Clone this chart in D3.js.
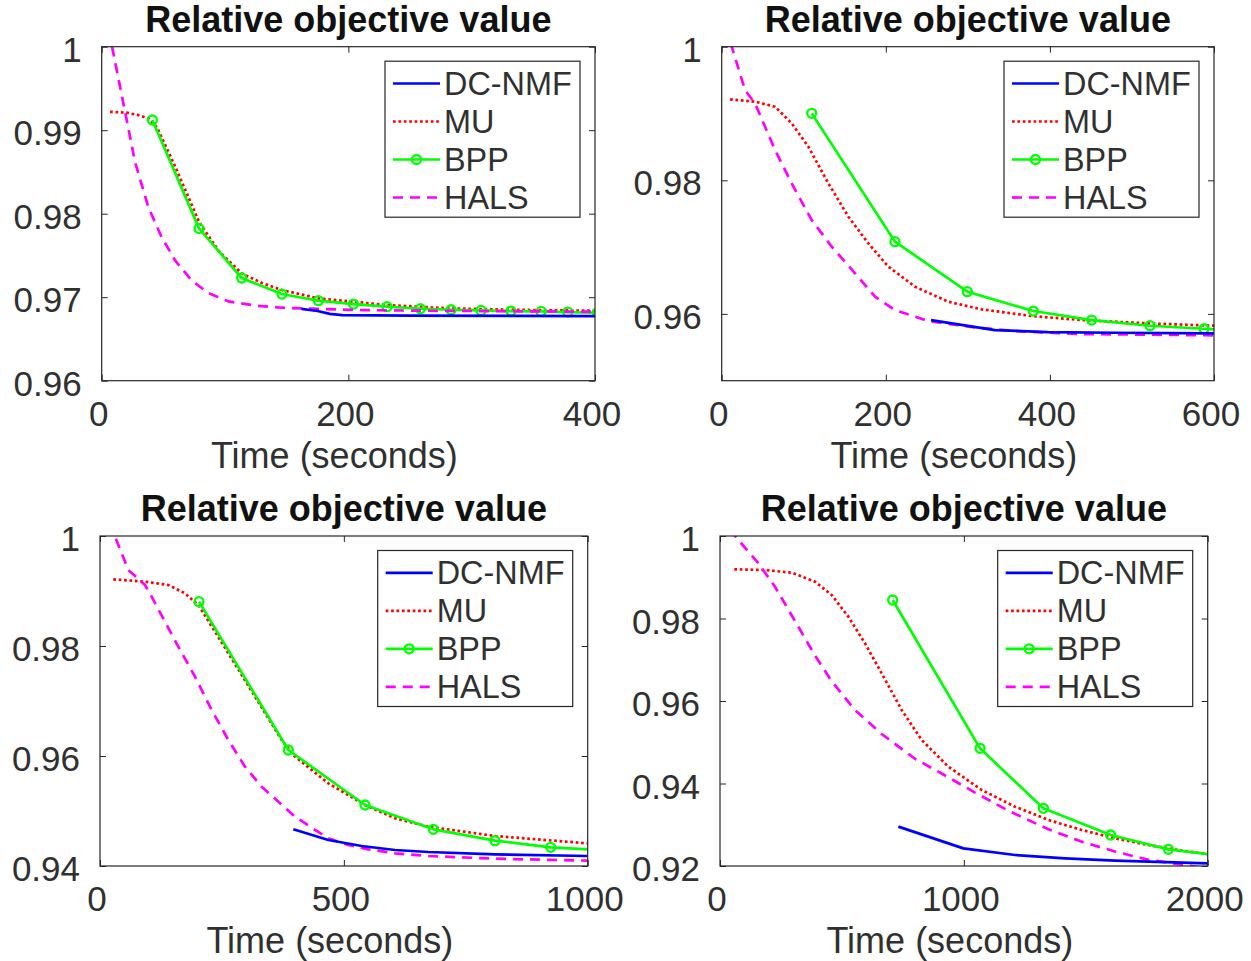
<!DOCTYPE html>
<html>
<head>
<meta charset="utf-8">
<title>Relative objective value</title>
<script src="https://d3js.org/d3.v7.min.js"></script>
<style>
  body { margin: 0; background: #fff; }
  text { font-family: "Liberation Sans", Arial, Helvetica, sans-serif; fill: #303030; }
</style>
</head>
<body>
<script>

	// series names, legend order
	var seriesNames = ["DC-NMF", "MU", "BPP", "HALS"];

	// panel 1 : [time, value]
	var p1DC = [[162,0.9686],[175,0.96835],[185,0.9680],[195,0.96786],[250,0.9678],[400,0.96774]];
	var p1MU = [[6.8,0.9922],[20,0.9921],[30,0.9918],[38,0.9914],[45,0.9903],[60,0.9855],[79,0.9790],[95,0.9755],[113.5,0.97285],[130,0.9717],[146,0.97086],[175.7,0.96986],[204,0.96946],[231,0.96906],[283,0.96866],[340,0.96848],[400,0.96838]];
	var p1BPP = [[41.1,0.99122],[78.9,0.97824],[113.5,0.9723],[146.2,0.97038],[175.7,0.96958],[204.1,0.96918],[231.4,0.96886],[258.4,0.96862],[283.3,0.9685],[307.6,0.96842],[331.9,0.96834],[356.3,0.9683],[377.9,0.96822],[402,0.96813]];
	var p1HALS = [[3,1.004],[20.3,0.9912],[27,0.9862],[37.8,0.9808],[48.6,0.9772],[59.5,0.9744],[73,0.9720],[86.5,0.9705],[102.7,0.9695],[124.3,0.9690],[146,0.96874],[170.3,0.96862],[210.8,0.96846],[265,0.96838],[400,0.96826]];

	// panel 2
	var p2DC = [[255.1,0.95908],[333.1,0.95758],[397.2,0.95728],[478.5,0.95718],[600,0.95708]];
	var p2MU = [[10.2,0.99212],[40.6,0.99177],[65,0.99102],[85.3,0.98852],[105.6,0.98503],[130,0.97954],[154.4,0.97455],[178.7,0.97056],[203.1,0.96707],[235.6,0.96407],[276.2,0.96182],[316.9,0.96068],[377.8,0.95968],[438.8,0.95908],[520,0.95858],[600,0.95823]];
	var p2BPP = [[109.7,0.99002],[211.2,0.97081],[299.4,0.96332],[379.8,0.96043],[450.9,0.95908],[522,0.95823],[587.8,0.95778],[653,0.95725]];
	var p2HALS = [[5,1.0029],[28.4,0.99351],[40.6,0.99152],[65,0.98453],[85.3,0.97954],[109.7,0.97405],[134.1,0.97006],[162.5,0.96607],[186.9,0.96257],[211.2,0.96058],[251.8,0.95893],[308.7,0.95798],[357.5,0.95743],[438.8,0.95699],[520,0.95689],[600,0.95679]];

	// panel 3
	var p3DC = [[396.4,0.94667],[468.2,0.94473],[536.6,0.94364],[604.9,0.94291],[673.3,0.94255],[810,0.94212],[1000,0.94182]];
	var p3MU = [[27.3,0.99212],[92.3,0.9917],[140.1,0.99109],[174.3,0.98958],[203,0.9873],[263.2,0.97867],[317.8,0.97079],[372.5,0.96291],[399.9,0.95988],[468.2,0.95503],[543.4,0.95109],[604.9,0.94867],[673.3,0.94715],[810,0.94545],[1000,0.94412]];
	var p3BPP = [[203,0.98806],[386.2,0.96109],[543.4,0.95109],[683.5,0.94667],[810,0.94461],[924.1,0.9434],[1038,0.94284]];
	var p3HALS = [[20,1.0024],[30.8,0.99988],[58.1,0.99382],[92.3,0.99109],[105.9,0.98897],[160.6,0.97988],[194.8,0.97442],[229,0.96836],[263.2,0.96291],[297.3,0.95806],[331.5,0.95442],[365.7,0.9517],[399.9,0.94897],[434,0.94697],[468.2,0.94503],[509.2,0.94382],[550.2,0.94303],[605,0.9423],[673.3,0.94182],[810,0.94133],[1000,0.94097]];

	// panel 4
	var p4DC = [[731.4,0.92954],[998,0.92428],[1209.8,0.92267],[1415,0.92186],[1620,0.92129],[2000,0.92065]];
	var p4MU = [[58.8,0.99192],[184.6,0.99176],[294,0.99111],[389.6,0.98893],[458,0.9857],[526.3,0.98044],[594.7,0.97398],[663,0.96671],[745,0.95782],[827.1,0.95055],[936.5,0.94408],[1073.2,0.93842],[1210,0.93438],[1346.7,0.93115],[1483.4,0.92873],[1620,0.92671],[1757,0.92509],[1893.4,0.92372],[2000,0.9229]];
	var p4BPP = [[708.1,0.98448],[1066.3,0.94853],[1326,0.93398],[1601.9,0.92752],[1838.7,0.92404],[2076,0.92238]];
	var p4HALS = [[40,1.0015],[61.5,1.0],[157.2,0.9934],[225.6,0.9877],[321.3,0.9780],[389.6,0.9710],[458,0.9648],[553.7,0.9578],[663,0.9520],[799.7,0.9460],[936.5,0.9415],[1045.8,0.9378],[1182.5,0.9334],[1346.7,0.9289],[1483.4,0.9259],[1620,0.9235],[1757,0.9215],[1934.4,0.9200],[2000,0.9194]];

	// axis ranges and tick labels
	var xMax = [400, 600, 1000, 2000];
	var yMin = [0.96, 0.95, 0.94, 0.92];
	var xTicks = [[0,200,400], [0,200,400,600], [0,500,1000], [0,1000,2000]];
	var yTicks = [[0.96,0.97,0.98,0.99,1], [0.96,0.98,1], [0.94,0.96,0.98,1], [0.92,0.94,0.96,0.98,1]];

	var titleText = "Relative objective value";
	var xLabelText = "Time (seconds)";

	// layout (pixels)
	var boxes = [
		{ left : 101.7, right : 595,    top : 46.7, bottom : 380.7 },
		{ left : 721.7, right : 1214,   top : 46.7, bottom : 380.7 },
		{ left : 100,   right : 587.7,  top : 536,  bottom : 866 },
		{ left : 720,   right : 1207.7, top : 536,  bottom : 866 }
	];

	var styles = [
		{ color : "#0000ff", dash : null,    marker : false },
		{ color : "#ff0000", dash : "2.7,2.7", marker : false },
		{ color : "#00ff00", dash : null,    marker : true },
		{ color : "#ff00ff", dash : "10,7",  marker : false }
	];

	var panels = [
		[p1DC, p1MU, p1BPP, p1HALS],
		[p2DC, p2MU, p2BPP, p2HALS],
		[p3DC, p3MU, p3BPP, p3HALS],
		[p4DC, p4MU, p4BPP, p4HALS]
	];

	var axisColor = "#262626";
	var lineW = 2.7;

	var svg = d3.select("body").append("svg")
		.attr("width", 1251)
		.attr("height", 961)
		.style("background", "#fff");

	function drawPanel(i) {
		var b = boxes[i];
		var x = d3.scaleLinear().domain([0, xMax[i]]).range([b.left, b.right]);
		var y = d3.scaleLinear().domain([yMin[i], 1]).range([b.bottom, b.top]);
		var g = svg.append("g");

		var clipId = "clip" + i;
		svg.append("clipPath").attr("id", clipId)
			.append("rect")
			.attr("x", b.left).attr("y", b.top)
			.attr("width", b.right - b.left).attr("height", b.bottom - b.top);

		// curves
		var line = d3.line()
			.x(function (d) { return x(d[0]); })
			.y(function (d) { return y(d[1]); });

		var plot = g.append("g").attr("clip-path", "url(#" + clipId + ")");
		// draw order: MU, BPP, HALS, DC on top like the reference
		[1, 2, 3, 0].forEach(function (s) {
			var st = styles[s];
			plot.append("path")
				.attr("d", line(panels[i][s]))
				.attr("fill", "none")
				.attr("stroke", st.color)
				.attr("stroke-width", lineW)
				.attr("stroke-dasharray", st.dash)
				.attr("stroke-linejoin", "round");
			if (st.marker) {
				plot.selectAll("circle.m" + s)
					.data(panels[i][s]).enter()
					.append("circle")
					.attr("cx", function (d) { return x(d[0]); })
					.attr("cy", function (d) { return y(d[1]); })
					.attr("r", 4.5)
					.attr("fill", "none")
					.attr("stroke", st.color)
					.attr("stroke-width", 2.3);
			}
		});

		// box axes with inward ticks on all sides
		var tl = 6;
		g.append("g").attr("transform", "translate(0," + b.bottom + ")")
			.call(d3.axisBottom(x).tickValues(xTicks[i]).tickSizeInner(-tl).tickSizeOuter(0).tickFormat(""));
		g.append("g").attr("transform", "translate(0," + b.top + ")")
			.call(d3.axisTop(x).tickValues(xTicks[i]).tickSizeInner(-tl).tickSizeOuter(0).tickFormat(""));
		g.append("g").attr("transform", "translate(" + b.left + ",0)")
			.call(d3.axisLeft(y).tickValues(yTicks[i]).tickSizeInner(-tl).tickSizeOuter(0).tickFormat(""));
		g.append("g").attr("transform", "translate(" + b.right + ",0)")
			.call(d3.axisRight(y).tickValues(yTicks[i]).tickSizeInner(-tl).tickSizeOuter(0).tickFormat(""));
		g.selectAll(".domain").remove();
		g.selectAll(".tick line").attr("stroke", axisColor).attr("stroke-width", 1);

		g.append("rect")
			.attr("x", b.left).attr("y", b.top)
			.attr("width", b.right - b.left).attr("height", b.bottom - b.top)
			.attr("fill", "none").attr("stroke", axisColor).attr("stroke-width", 1.2);

		// tick labels
		g.selectAll("text.xt").data(xTicks[i]).enter()
			.append("text")
			.attr("x", function (d) { return x(d) - 3; })
			.attr("y", b.bottom + 45)
			.attr("text-anchor", "middle")
			.style("font-size", "35px")
			.text(function (d) { return d3.format("d")(d); });

		g.selectAll("text.yt").data(yTicks[i]).enter()
			.append("text")
			.attr("x", b.left - 20)
			.attr("y", function (d) { return y(d) + 15; })
			.attr("text-anchor", "end")
			.style("font-size", "35px")
			.text(function (d) { return d === 1 ? "1" : d3.format(".2f")(d); });

		// title and x label
		g.append("text")
			.attr("x", (b.left + b.right) / 2)
			.attr("y", b.top - 15)
			.attr("text-anchor", "middle")
			.style("font-size", "36px")
			.style("font-weight", "bold")
			.style("fill", "#111")
			.text(titleText);

		g.append("text")
			.attr("x", (b.left + b.right) / 2 - 14)
			.attr("y", b.bottom + 87)
			.attr("text-anchor", "middle")
			.style("font-size", "36px")
			.text(xLabelText);

		// legend
		var lw = 195, lh = 156;
		var lx = b.right - 15 - lw, ly = b.top + 14.5;
		var leg = g.append("g").attr("transform", "translate(" + lx + "," + ly + ")");
		leg.append("rect")
			.attr("width", lw).attr("height", lh)
			.attr("fill", "#fff").attr("stroke", axisColor).attr("stroke-width", 1.2);
		seriesNames.forEach(function (name, s) {
			var cy = 22.3 + s * 38;
			var st = styles[s];
			leg.append("line")
				.attr("x1", 8).attr("x2", 55).attr("y1", cy).attr("y2", cy)
				.attr("stroke", st.color).attr("stroke-width", lineW)
				.attr("stroke-dasharray", st.dash);
			if (st.marker) {
				leg.append("circle")
					.attr("cx", 31.5).attr("cy", cy).attr("r", 4.5)
					.attr("fill", "none").attr("stroke", st.color).attr("stroke-width", 2.3);
			}
			leg.append("text")
				.attr("x", 59)
				.attr("y", cy + 11.6)
				.style("font-size", "32.4px")
				.text(name);
		});
	}

	for (var i = 0; i < 4; i++) drawPanel(i);

</script>
</body>
</html>
